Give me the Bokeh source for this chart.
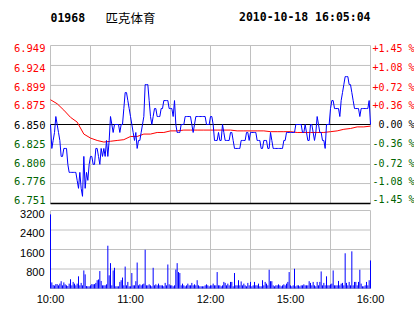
from bokeh.plotting import figure
from bokeh.models import Range1d
from bokeh.core.properties import value
from bokeh.embed import file_html
from bokeh.resources import INLINE

stock_code = "01968"
stock_name = "匹克体育"
stamp = "2010-10-18 16:05:04"
prev_close = 6.85

# minute index: 0 = 10:00 ... 150 = 12:30 / 14:30 ... 240 = 16:00
minutes = list(range(241))

price = [
    6.85, 6.82, 6.83, 6.84, 6.86, 6.85, 6.84, 6.83, 6.81, 6.81,
    6.82, 6.82, 6.82, 6.80, 6.79, 6.79, 6.79, 6.79, 6.79, 6.79,
    6.78, 6.77, 6.79, 6.77, 6.76, 6.81, 6.77, 6.79, 6.78, 6.80,
    6.81, 6.81, 6.80, 6.80, 6.82, 6.82, 6.81, 6.80, 6.82, 6.81,
    6.82, 6.81, 6.83, 6.81, 6.83, 6.86, 6.85, 6.84, 6.85, 6.85,
    6.85, 6.85, 6.84, 6.85, 6.85, 6.87, 6.89, 6.89, 6.88, 6.87,
    6.86, 6.85, 6.84, 6.83, 6.84, 6.82, 6.83, 6.83, 6.84, 6.85,
    6.86, 6.90, 6.90, 6.90, 6.88, 6.86, 6.85, 6.86, 6.87, 6.87,
    6.86, 6.86, 6.86, 6.87, 6.87, 6.88, 6.88, 6.88, 6.88, 6.87,
    6.87, 6.87, 6.86, 6.88, 6.85, 6.84, 6.84, 6.84, 6.85, 6.85,
    6.85, 6.86, 6.86, 6.86, 6.86, 6.86, 6.85, 6.84, 6.85, 6.86,
    6.86, 6.86, 6.86, 6.86, 6.86, 6.86, 6.86, 6.85, 6.85, 6.85,
    6.86, 6.86, 6.85, 6.83, 6.83, 6.83, 6.84, 6.83, 6.83, 6.85,
    6.84, 6.83, 6.83, 6.83, 6.83, 6.84, 6.84, 6.83, 6.82, 6.82,
    6.82, 6.82, 6.82, 6.83, 6.83, 6.83, 6.83, 6.84, 6.84, 6.83,
    6.84, 6.84, 6.84, 6.84, 6.84, 6.83, 6.83, 6.83, 6.82, 6.82,
    6.83, 6.83, 6.83, 6.82, 6.82, 6.84, 6.83, 6.82, 6.82, 6.82,
    6.82, 6.82, 6.82, 6.82, 6.82, 6.83, 6.83, 6.84, 6.84, 6.84,
    6.84, 6.84, 6.84, 6.84, 6.85, 6.85, 6.85, 6.85, 6.85, 6.84,
    6.84, 6.85, 6.84, 6.83, 6.83, 6.85, 6.85, 6.84, 6.83, 6.84,
    6.86, 6.85, 6.84, 6.84, 6.83, 6.83, 6.82, 6.85, 6.85, 6.85,
    6.87, 6.88, 6.88, 6.87, 6.87, 6.87, 6.87, 6.86, 6.88, 6.89,
    6.90, 6.91, 6.91, 6.91, 6.90, 6.90, 6.89, 6.88, 6.87, 6.87,
    6.87, 6.87, 6.86, 6.87, 6.87, 6.87, 6.87, 6.87, 6.87, 6.88,
    6.85,
]

avg_minutes = list(range(0, 241, 5))
avg_price = [
    6.881, 6.876, 6.868, 6.859, 6.853, 6.838, 6.833, 6.830, 6.828, 6.829,
    6.830, 6.831, 6.835, 6.835, 6.838, 6.838, 6.840, 6.840, 6.842, 6.842,
    6.843, 6.843, 6.843, 6.843, 6.843, 6.843, 6.843, 6.843, 6.842, 6.842,
    6.842, 6.842, 6.842, 6.841, 6.841, 6.841, 6.841, 6.840, 6.840, 6.840,
    6.840, 6.840, 6.841, 6.842, 6.844, 6.845, 6.847, 6.847, 6.848,
]

volume = [
    3040, 250, 140, 120, 180, 180, 130, 200, 300, 130,
    250, 170, 130, 100, 200, 380, 130, 270, 200, 130,
    200, 500, 130, 230, 130, 740, 580, 100, 90, 90,
    130, 180, 170, 180, 230, 340, 370, 715, 310, 130,
    130, 130, 170, 1755, 540, 1040, 130, 740, 850, 90,
    90, 90, 270, 340, 450, 130, 900, 130, 270, 90,
    90, 635, 130, 130, 300, 1065, 130, 170, 130, 170,
    200, 1590, 130, 130, 170, 130, 90, 850, 130, 170,
    130, 200, 130, 130, 130, 90, 230, 130, 985, 170,
    130, 130, 90, 130, 780, 1040, 675, 635, 130, 200,
    130, 90, 130, 200, 130, 130, 230, 130, 170, 130,
    340, 130, 90, 90, 90, 90, 130, 170, 130, 90,
    130, 130, 200, 130, 130, 675, 130, 130, 90, 130,
    270, 230, 130, 200, 130, 270, 270, 90, 635, 130,
    130, 340, 130, 290, 130, 200, 130, 90, 230, 130,
    270, 90, 130, 270, 130, 130, 200, 90, 90, 340,
    130, 270, 200, 130, 770, 300, 300, 130, 90, 130,
    130, 170, 130, 90, 130, 170, 130, 200, 270, 675,
    130, 90, 130, 810, 90, 130, 130, 90, 130, 130,
    170, 130, 130, 130, 300, 230, 130, 270, 130, 90,
    270, 130, 270, 700, 130, 230, 130, 500, 130, 130,
    170, 200, 740, 130, 130, 130, 310, 130, 200, 230,
    130, 1445, 230, 130, 270, 130, 1525, 130, 270, 270,
    130, 270, 770, 200, 90, 90, 130, 270, 130, 340,
    1150,
]

price_ticks = [6.949, 6.924, 6.899, 6.875, 6.850, 6.825, 6.800, 6.776, 6.751]
pct_labels = ["+1.45 %", "+1.08 %", "+0.72 %", "+0.36 %", "\u00a00.00 %",
              "-0.36 %", "-0.72 %", "-1.08 %", "-1.45 %"]
grid_minutes = [0, 30, 60, 90, 120, 150, 180, 210, 240]
time_ticks = [0, 60, 120, 180, 240]
time_labels = ["10:00", "11:00", "12:00", "15:00", "16:00"]
vol_ticks = [3200, 2400, 1600, 800]
vol_max = 3200

# ---------------- styling / layout (pixels) ----------------
W, H = 414, 314
FL, FR = 50, 370            # frame left / right
PT, PB = 45, 203            # price panel top / bottom
VT, VB = 210, 288           # volume panel top / bottom
RED = "#ff0000"
GREEN = "#006400"
BLUE = "#0000ff"
GRID = "#c0c0c0"
label_colors = [RED, RED, RED, RED, "#000000", GREEN, GREEN, GREEN, GREEN]
label_dy = [2.8, 2.4, 1.7, 0.5, 0.0, -0.6, -1.2, -2.2, -3.6]
MONO = value("DejaVu Sans Mono")
SANS = value("Liberation Sans")

x0, x1 = grid_minutes[0], grid_minutes[-1]
ppm = (FR - FL) / (x1 - x0)
p_lo, p_hi = price_ticks[-1], price_ticks[0]
ppp = (PB - PT) / (p_hi - p_lo)
ppv = (VB - VT) / vol_max

p = figure(width=W, height=H, output_backend="svg", toolbar_location=None, title=None,
           x_range=Range1d(x0 - FL / ppm, x1 + (W - FR) / ppm),
           y_range=Range1d(p_lo - (H - PB) / ppp, p_hi + PT / ppp),
           x_axis_location=None, y_axis_location=None, min_border=0)
p.extra_y_ranges = {"vol": Range1d(0 - (H - VB) / ppv, vol_max + VT / ppv)}
p.grid.visible = False
p.outline_line_color = None
p.background_fill_color = "white"
p.border_fill_color = "white"

# ---- price panel grid & frame ----
p.segment(x0=[x0] * len(price_ticks), x1=[x1] * len(price_ticks), y0=price_ticks, y1=price_ticks,
          line_color=GRID, line_width=1)
p.segment(x0=grid_minutes, x1=grid_minutes, y0=[p_lo] * len(grid_minutes), y1=[p_hi] * len(grid_minutes),
          line_color=GRID, line_width=1)
p.segment(x0=[x0], x1=[x1], y0=[prev_close], y1=[prev_close], line_color="black", line_width=1)
p.segment(x0=[x0], x1=[x1], y0=[p_lo], y1=[p_lo], line_color="black", line_width=1.5)

p.line(avg_minutes, avg_price, line_color=RED, line_width=1)
p.line(minutes, price, line_color=BLUE, line_width=1)

# ---- volume panel grid & frame ----
p.segment(x0=[x0] * len(vol_ticks), x1=[x1] * len(vol_ticks), y0=vol_ticks, y1=vol_ticks,
          line_color=GRID, line_width=1, y_range_name="vol")
p.segment(x0=grid_minutes, x1=grid_minutes, y0=[0] * len(grid_minutes), y1=[vol_max] * len(grid_minutes),
          line_color=GRID, line_width=1, y_range_name="vol")
p.segment(x0=[x0], x1=[x1], y0=[0], y1=[0], line_color=GRID, line_width=1, y_range_name="vol")
p.segment(x0=minutes, y0=[0] * len(minutes), x1=minutes, y1=volume,
          line_color=BLUE, line_width=1, y_range_name="vol")

# ---- texts ----
p.text(x=[x0] * len(price_ticks), y=price_ticks, text=[f"{t:.3f}" for t in price_ticks],
       text_color=label_colors, x_offset=-5, y_offset=label_dy,
       text_align="right", text_baseline="middle", text_font=MONO, text_font_size="10.5px")
p.text(x=[x1] * len(price_ticks), y=price_ticks, text=pct_labels,
       text_color=label_colors, x_offset=2, y_offset=label_dy,
       text_align="left", text_baseline="middle", text_font=MONO, text_font_size="10px")
p.text(x=[x0] * len(vol_ticks), y=vol_ticks, text=[str(v) for v in vol_ticks],
       text_color="black", x_offset=-6, y_offset=3, y_range_name="vol",
       text_align="right", text_baseline="middle", text_font=SANS, text_font_size="11px")
p.text(x=time_ticks, y=[0] * len(time_ticks), text=time_labels,
       text_color="black", y_offset=10, y_range_name="vol",
       text_align="center", text_baseline="middle", text_font=SANS, text_font_size="11px")

p.text(x=[x0], y=[p_hi], text=[stock_code], y_offset=-28.5, text_color="black",
       text_align="left", text_baseline="middle", text_font=MONO, text_font_style="bold",
       text_font_size="11.5px")
p.text(x=[x0], y=[p_hi], text=[stock_name], x_offset=55, y_offset=-28.5, text_color="black",
       text_align="left", text_baseline="middle", text_font=value("Noto Sans CJK SC"),
       text_font_size="12.5px")
p.text(x=[x1], y=[p_hi], text=[stamp], y_offset=-28.5, text_color="black",
       text_align="right", text_baseline="middle", text_font=MONO, text_font_style="bold",
       text_font_size="11.5px")

open("out.html", "w").write(file_html(p, INLINE))
